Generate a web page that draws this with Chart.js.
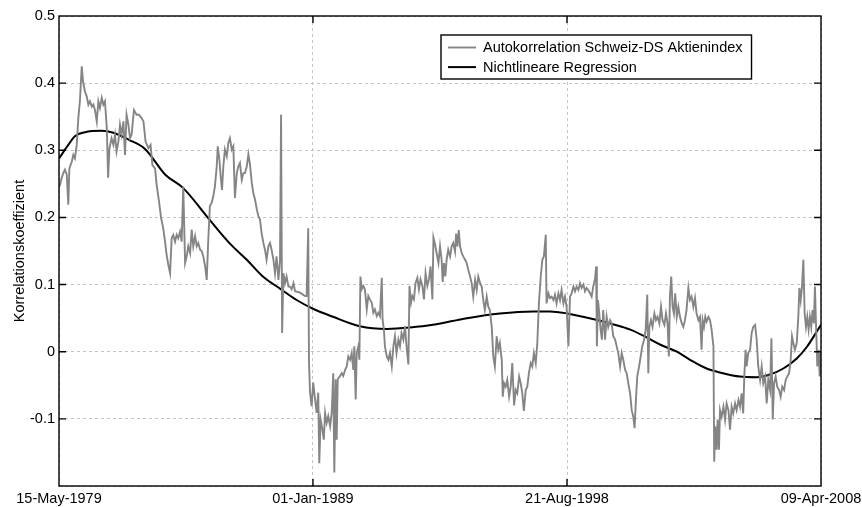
<!DOCTYPE html>
<html>
<head>
<meta charset="utf-8">
<title>Autokorrelation Schweiz-DS Aktienindex</title>
<script src="https://cdn.jsdelivr.net/npm/chart.js@4.4.1/dist/chart.umd.min.js"></script>
<style>
    html, body { margin: 0; padding: 0; background: #fff; }
</style>
</head>
<body>
<canvas id="acfChart" width="862" height="507"></canvas>
<script>

// x axis: decimal years, ticks placed where the original date labels sit
const xTickYears = [1979.367, 1989.0, 1998.636, 2008.27];
const xTickLabels = ["15-May-1979", "01-Jan-1989", "21-Aug-1998", "09-Apr-2008"];

const yTicks = [-0.2, -0.1, 0, 0.1, 0.2, 0.3, 0.4, 0.5];

const seriesLabels = ["Autokorrelation Schweiz-DS Aktienindex", "Nichtlineare Regression"];

// gray series
const acfYears = [
    1979.37, 1979.41, 1979.47, 1979.53, 1979.59, 1979.66, 1979.72, 1979.76, 1979.85, 1979.91,
    1979.97, 1980.04, 1980.10, 1980.16, 1980.23, 1980.28, 1980.35, 1980.42, 1980.48, 1980.54,
    1980.61, 1980.67, 1980.73, 1980.80, 1980.86, 1980.92, 1980.99, 1981.05, 1981.11, 1981.18,
    1981.23, 1981.28, 1981.36, 1981.43, 1981.49, 1981.55, 1981.62, 1981.68, 1981.74, 1981.81,
    1981.87, 1981.93, 1982.00, 1982.06, 1982.12, 1982.21, 1982.31, 1982.40, 1982.50, 1982.57,
    1982.65, 1982.76, 1982.84, 1982.91, 1983.01, 1983.07, 1983.16, 1983.24, 1983.32, 1983.39,
    1983.45, 1983.51, 1983.58, 1983.64, 1983.70, 1983.77, 1983.83, 1983.89, 1983.96, 1984.02,
    1984.08, 1984.15, 1984.21, 1984.27, 1984.34, 1984.40, 1984.46, 1984.53, 1984.59, 1984.65,
    1984.72, 1984.78, 1984.84, 1984.91, 1984.97, 1985.03, 1985.09, 1985.16, 1985.22, 1985.28,
    1985.35, 1985.39, 1985.45, 1985.50, 1985.55, 1985.60, 1985.66, 1985.73, 1985.79, 1985.85,
    1985.92, 1985.98, 1986.04, 1986.11, 1986.17, 1986.23, 1986.30, 1986.36, 1986.42, 1986.49,
    1986.55, 1986.61, 1986.68, 1986.74, 1986.80, 1986.87, 1986.93, 1986.99, 1987.05, 1987.12,
    1987.18, 1987.24, 1987.31, 1987.37, 1987.43, 1987.50, 1987.56, 1987.62, 1987.69, 1987.75,
    1987.79, 1987.83, 1987.88, 1987.94, 1988.00, 1988.07, 1988.13, 1988.19, 1988.26, 1988.32,
    1988.51, 1988.70, 1988.76, 1988.82, 1988.85, 1988.89, 1988.95, 1989.01, 1989.08, 1989.14,
    1989.20, 1989.24, 1989.29, 1989.36, 1989.41, 1989.46, 1989.52, 1989.58, 1989.65, 1989.71,
    1989.77, 1989.81, 1989.86, 1989.90, 1989.94, 1990.03, 1990.09, 1990.15, 1990.22, 1990.28,
    1990.34, 1990.41, 1990.47, 1990.53, 1990.57, 1990.62, 1990.66, 1990.72, 1990.76, 1990.80,
    1990.85, 1990.91, 1990.97, 1991.04, 1991.10, 1991.16, 1991.23, 1991.29, 1991.35, 1991.42,
    1991.48, 1991.54, 1991.61, 1991.64, 1991.69, 1991.73, 1991.80, 1991.86, 1991.92, 1991.99,
    1992.05, 1992.11, 1992.17, 1992.24, 1992.30, 1992.36, 1992.43, 1992.49, 1992.55, 1992.62,
    1992.66, 1992.72, 1992.77, 1992.83, 1992.89, 1992.96, 1993.02, 1993.08, 1993.15, 1993.21,
    1993.27, 1993.34, 1993.40, 1993.46, 1993.53, 1993.57, 1993.63, 1993.69, 1993.76, 1993.82,
    1993.88, 1993.92, 1993.97, 1994.02, 1994.07, 1994.13, 1994.20, 1994.26, 1994.32, 1994.39,
    1994.43, 1994.48, 1994.53, 1994.58, 1994.64, 1994.70, 1994.77, 1994.83, 1994.89, 1994.96,
    1995.02, 1995.08, 1995.15, 1995.21, 1995.27, 1995.34, 1995.40, 1995.46, 1995.52, 1995.59,
    1995.65, 1995.71, 1995.78, 1995.84, 1995.90, 1995.97, 1996.03, 1996.09, 1996.16, 1996.20,
    1996.25, 1996.31, 1996.37, 1996.44, 1996.50, 1996.56, 1996.63, 1996.69, 1996.75, 1996.82,
    1996.88, 1996.94, 1997.00, 1997.07, 1997.13, 1997.19, 1997.26, 1997.32, 1997.38, 1997.45,
    1997.51, 1997.57, 1997.64, 1997.70, 1997.76, 1997.83, 1997.86, 1997.93, 1997.99, 1998.05,
    1998.12, 1998.18, 1998.24, 1998.31, 1998.37, 1998.43, 1998.50, 1998.56, 1998.62, 1998.69,
    1998.75, 1998.81, 1998.88, 1998.94, 1999.00, 1999.07, 1999.13, 1999.19, 1999.26, 1999.32,
    1999.38, 1999.44, 1999.51, 1999.57, 1999.63, 1999.70, 1999.74, 1999.77, 1999.81, 1999.86,
    1999.91, 1999.96, 2000.01, 2000.08, 2000.14, 2000.20, 2000.27, 2000.33, 2000.39, 2000.46,
    2000.52, 2000.58, 2000.65, 2000.71, 2000.77, 2000.84, 2000.90, 2000.96, 2001.03, 2001.09,
    2001.15, 2001.20, 2001.25, 2001.30, 2001.37, 2001.43, 2001.49, 2001.56, 2001.62, 2001.68,
    2001.72, 2001.76, 2001.82, 2001.88, 2001.95, 2002.01, 2002.07, 2002.14, 2002.20, 2002.26,
    2002.33, 2002.39, 2002.45, 2002.50, 2002.54, 2002.59, 2002.64, 2002.69, 2002.74, 2002.80,
    2002.86, 2002.92, 2002.99, 2003.05, 2003.11, 2003.17, 2003.24, 2003.30, 2003.36, 2003.43,
    2003.49, 2003.55, 2003.62, 2003.68, 2003.74, 2003.78, 2003.83, 2003.88, 2003.93, 2004.00,
    2004.06, 2004.12, 2004.19, 2004.22, 2004.26, 2004.31, 2004.35, 2004.40, 2004.44, 2004.50,
    2004.57, 2004.63, 2004.69, 2004.76, 2004.82, 2004.88, 2004.94, 2005.01, 2005.07, 2005.14,
    2005.20, 2005.26, 2005.32, 2005.36, 2005.41, 2005.45, 2005.51, 2005.58, 2005.64, 2005.70,
    2005.77, 2005.83, 2005.89, 2005.96, 2006.02, 2006.08, 2006.15, 2006.21, 2006.27, 2006.34,
    2006.39, 2006.44, 2006.49, 2006.55, 2006.61, 2006.68, 2006.74, 2006.80, 2006.87, 2006.93,
    2006.99, 2007.06, 2007.12, 2007.17, 2007.22, 2007.28, 2007.35, 2007.41, 2007.45, 2007.50,
    2007.55, 2007.60, 2007.65, 2007.70, 2007.75, 2007.80, 2007.85, 2007.90, 2007.95, 2008.00,
    2008.04, 2008.08, 2008.13, 2008.18, 2008.22, 2008.26
];

const acfValues = [
    0.245, 0.249, 0.259, 0.266, 0.271, 0.264, 0.219, 0.273, 0.283, 0.293,
    0.288, 0.308, 0.348, 0.373, 0.425, 0.402, 0.388, 0.380, 0.368, 0.373,
    0.365, 0.368, 0.360, 0.343, 0.373, 0.363, 0.378, 0.368, 0.373, 0.333,
    0.259, 0.303, 0.318, 0.308, 0.323, 0.298, 0.313, 0.338, 0.323, 0.343,
    0.293, 0.353, 0.338, 0.318, 0.323, 0.360, 0.353, 0.353, 0.348, 0.343,
    0.313, 0.303, 0.308, 0.278, 0.273, 0.249, 0.224, 0.199, 0.184, 0.164,
    0.144, 0.130, 0.117, 0.169, 0.174, 0.164, 0.174, 0.169, 0.179, 0.164,
    0.246, 0.132, 0.142, 0.157, 0.147, 0.182, 0.157, 0.172, 0.157, 0.162,
    0.152, 0.150, 0.142, 0.127, 0.107, 0.167, 0.217, 0.222, 0.232, 0.246,
    0.276, 0.306, 0.286, 0.261, 0.241, 0.276, 0.301, 0.291, 0.311, 0.318,
    0.301, 0.306, 0.229, 0.266, 0.276, 0.281, 0.256, 0.266, 0.266, 0.276,
    0.294, 0.279, 0.251, 0.236, 0.227, 0.212, 0.202, 0.197, 0.177, 0.162,
    0.152, 0.137, 0.157, 0.162, 0.152, 0.137, 0.117, 0.142, 0.107, 0.137,
    0.353, 0.028, 0.117, 0.102, 0.112, 0.097, 0.097, 0.093, 0.102, 0.090,
    0.088, 0.083, 0.083, 0.184, -0.017, -0.061, -0.081, -0.046, -0.071, -0.091,
    -0.061, -0.166, -0.101, -0.116, -0.131, -0.091, -0.106, -0.096, -0.111, -0.091,
    -0.032, -0.180, -0.041, -0.131, -0.041, -0.036, -0.032, -0.036, -0.027, -0.022,
    -0.007, -0.012, -0.002, -0.027, 0.008, -0.071, -0.002, 0.008, -0.012, 0.112,
    0.093, 0.098, 0.093, 0.063, 0.083, 0.078, 0.073, 0.058, 0.063, 0.053,
    0.058, 0.053, 0.110, 0.048, 0.033, 0.008, -0.007, -0.012, -0.002, -0.022,
    0.008, 0.023, -0.002, 0.018, 0.008, 0.028, 0.018, 0.038, 0.008, -0.019,
    0.098, 0.073, 0.083, 0.078, 0.102, 0.110, 0.093, 0.108, 0.098, 0.078,
    0.117, 0.098, 0.108, 0.127, 0.078, 0.170, 0.160, 0.147, 0.132, 0.157,
    0.137, 0.104, 0.132, 0.112, 0.137, 0.152, 0.142, 0.157, 0.162, 0.149,
    0.176, 0.157, 0.181, 0.157, 0.147, 0.142, 0.137, 0.132, 0.122, 0.112,
    0.102, 0.082, 0.107, 0.092, 0.112, 0.102, 0.097, 0.077, 0.062, 0.082,
    0.067, 0.062, 0.037, -0.007, -0.022, 0.023, 0.003, 0.013, -0.012, -0.067,
    -0.047, -0.052, -0.042, -0.067, -0.052, -0.017, -0.080, -0.057, -0.062, -0.037,
    -0.047, -0.062, -0.088, -0.057, -0.052, -0.032, -0.017, -0.022, -0.002, -0.017,
    0.013, 0.072, 0.112, 0.137, 0.142, 0.174, 0.072, 0.087, 0.080, 0.082,
    0.077, 0.085, 0.072, 0.087, 0.077, 0.092, 0.072, 0.082, 0.067, 0.008,
    0.082, 0.087, 0.097, 0.090, 0.097, 0.092, 0.102, 0.095, 0.100, 0.090,
    0.095, 0.092, 0.087, 0.082, 0.097, 0.109, 0.127, 0.008, 0.077, 0.057,
    0.033, 0.018, 0.062, 0.018, 0.052, 0.037, 0.047, 0.042, 0.023, 0.018,
    0.008, -0.002, -0.022, -0.002, -0.012, -0.027, -0.032, -0.047, -0.062, -0.087,
    -0.097, -0.114, -0.072, -0.037, -0.022, -0.007, 0.008, 0.018, 0.033, 0.085,
    -0.032, 0.037, 0.047, 0.037, 0.057, 0.047, 0.052, 0.042, 0.067, 0.047,
    0.040, 0.057, 0.042, -0.007, 0.082, 0.112, 0.067, 0.057, 0.087, 0.052,
    0.067, 0.052, 0.042, 0.037, 0.047, 0.062, 0.095, 0.077, 0.082, 0.067,
    0.080, 0.057, 0.047, 0.052, 0.003, 0.047, 0.037, 0.052, 0.045, 0.052,
    0.047, 0.033, 0.008, -0.164, -0.111, -0.146, -0.101, -0.146, -0.087, -0.097,
    -0.082, -0.101, -0.077, -0.087, -0.116, -0.082, -0.092, -0.077, -0.087, -0.072,
    -0.082, -0.062, -0.092, -0.037, 0.003, -0.022, -0.002, 0.003, 0.028, 0.037,
    0.040, 0.018, -0.022, -0.042, -0.022, -0.047, -0.037, -0.077, -0.042, -0.057,
    0.020, -0.101, -0.047, -0.037, -0.052, -0.057, -0.067, -0.052, -0.057, -0.042,
    -0.037, -0.032, -0.012, 0.023, 0.013, 0.003, 0.013, 0.052, 0.095, 0.077,
    0.097, 0.137, 0.057, 0.037, 0.052, 0.033, 0.052, 0.037, 0.062, 0.042,
    0.097, 0.042, -0.022, 0.003, -0.037, -0.002
];

// black regression curve
const fitYears = [
    1979.37, 1979.72, 1979.97, 1980.35, 1980.99, 1981.43, 1982.00, 1982.63, 1983.39, 1984.07,
    1985.09, 1985.85, 1986.49, 1987.10, 1987.75, 1988.38, 1989.00, 1989.76, 1990.78, 1991.81,
    1992.68, 1993.55, 1994.84, 1996.09, 1997.35, 1997.99, 1998.64, 1999.24, 1999.89, 2000.38,
    2001.04, 2001.67, 2002.20, 2002.80, 2003.30, 2003.93, 2004.55, 2005.19, 2005.83, 2006.33,
    2006.84, 2007.35, 2007.73, 2008.11, 2008.27
];

const fitValues = [
    0.288, 0.308, 0.321, 0.327, 0.329, 0.326, 0.316, 0.302, 0.264, 0.244,
    0.196, 0.161, 0.137, 0.112, 0.094, 0.077, 0.064, 0.052, 0.038, 0.034,
    0.036, 0.040, 0.050, 0.057, 0.060, 0.060, 0.057, 0.052, 0.046, 0.041,
    0.033, 0.021, 0.010, 0.000, -0.012, -0.025, -0.032, -0.037, -0.038, -0.034,
    -0.025, -0.010, 0.007, 0.030, 0.040
];

const FONT = "'Liberation Sans', Arial, Helvetica, sans-serif";
Chart.defaults.font.family = FONT;
Chart.defaults.font.size = 14.5;
Chart.defaults.color = "#000";

const GRAY = "#858585";

// box around the axes with inward ticks, like the matlab figure
const axesBox = {
    id: "axesBox",
    afterDatasetsDraw(chart) {
        const { ctx, chartArea: a, scales } = chart;
        ctx.save();
        ctx.strokeStyle = "#000";
        ctx.lineWidth = 1.4;
        ctx.strokeRect(a.left, a.top, a.right - a.left, a.bottom - a.top);

        const len = 7;
        ctx.beginPath();
        yTicks.forEach(v => {
            const py = scales.y.getPixelForValue(v);
            if (py <= a.top + 1 || py >= a.bottom - 1) return;
            ctx.moveTo(a.left, py); ctx.lineTo(a.left + len, py);
            ctx.moveTo(a.right, py); ctx.lineTo(a.right - len, py);
        });
        xTickYears.forEach(v => {
            const px = scales.x.getPixelForValue(v);
            if (px <= a.left + 1 || px >= a.right - 1) return;
            ctx.moveTo(px, a.bottom); ctx.lineTo(px, a.bottom - len);
            ctx.moveTo(px, a.top); ctx.lineTo(px, a.top + len);
        });
        ctx.stroke();
        ctx.restore();
    }
};

const boxLegend = {
    id: "boxLegend",
    afterDraw(chart) {
        const { ctx, chartArea: a } = chart;
        const sets = chart.data.datasets;
        ctx.save();
        ctx.font = "14.5px " + FONT;
        const textW = Math.max(...sets.map(d => ctx.measureText(d.label).width));
        const x0 = a.left + 382;
        const y0 = a.top + 19;
        const w = 7 + 28 + 7 + textW + 9;
        const h = 44;

        ctx.fillStyle = "#fff";
        ctx.fillRect(x0, y0, w, h);
        ctx.strokeStyle = "#000";
        ctx.lineWidth = 1.4;
        ctx.strokeRect(x0, y0, w, h);

        sets.forEach((d, i) => {
            const cy = y0 + 12.5 + i * 19.6;
            ctx.strokeStyle = d.borderColor;
            ctx.lineWidth = d.borderWidth;
            ctx.beginPath();
            ctx.moveTo(x0 + 7, cy);
            ctx.lineTo(x0 + 35, cy);
            ctx.stroke();
            ctx.fillStyle = "#000";
            ctx.textBaseline = "middle";
            ctx.textAlign = "left";
            ctx.fillText(d.label, x0 + 42, cy + 0.5);
        });
        ctx.restore();
    }
};

const gridStyle = { color: "#c4c4c4", lineWidth: 1, drawTicks: false };

new Chart(document.getElementById("acfChart"), {
    type: "line",
    data: {
        datasets: [
            {
                label: seriesLabels[0],
                data: acfYears.map((x, i) => ({ x: x, y: acfValues[i] })),
                borderColor: GRAY,
                borderWidth: 1.9,
                pointRadius: 0,
                tension: 0
            },
            {
                label: seriesLabels[1],
                data: fitYears.map((x, i) => ({ x: x, y: fitValues[i] })),
                borderColor: "#000",
                borderWidth: 2,
                pointRadius: 0,
                cubicInterpolationMode: "monotone"
            }
        ]
    },
    options: {
        responsive: false,
        animation: false,
        devicePixelRatio: 1,
        layout: { padding: { left: 0, right: 41, top: 16, bottom: 0 } },
        plugins: {
            legend: { display: false },
            tooltip: { enabled: false }
        },
        scales: {
            x: {
                type: "linear",
                min: xTickYears[0],
                max: xTickYears[xTickYears.length - 1],
                afterBuildTicks: s => { s.ticks = xTickYears.map(v => ({ value: v })); },
                afterFit: s => {
                    s.height = 21;
                    s.paddingLeft = 0;
                    s.paddingRight = 0;
                },
                ticks: {
                    autoSkip: false,
                    maxRotation: 0,
                    padding: 4,
                    callback: v => xTickLabels[xTickYears.indexOf(v)]
                },
                grid: gridStyle,
                border: { display: false, dash: [3, 3] }
            },
            y: {
                min: -0.2,
                max: 0.5,
                afterBuildTicks: s => { s.ticks = yTicks.map(v => ({ value: v })); },
                afterFit: s => { s.width = 59; },
                ticks: {
                    padding: 4,
                    callback: v => (v === -0.2 ? "" : String(v))
                },
                grid: gridStyle,
                border: { display: false, dash: [3, 3] },
                title: {
                    display: true,
                    text: "Korrelationskoeffizient",
                    padding: { top: 11, bottom: 0 },
                    font: { size: 14.5 }
                }
            }
        }
    },
    plugins: [axesBox, boxLegend]
});
</script>
</body>
</html>
